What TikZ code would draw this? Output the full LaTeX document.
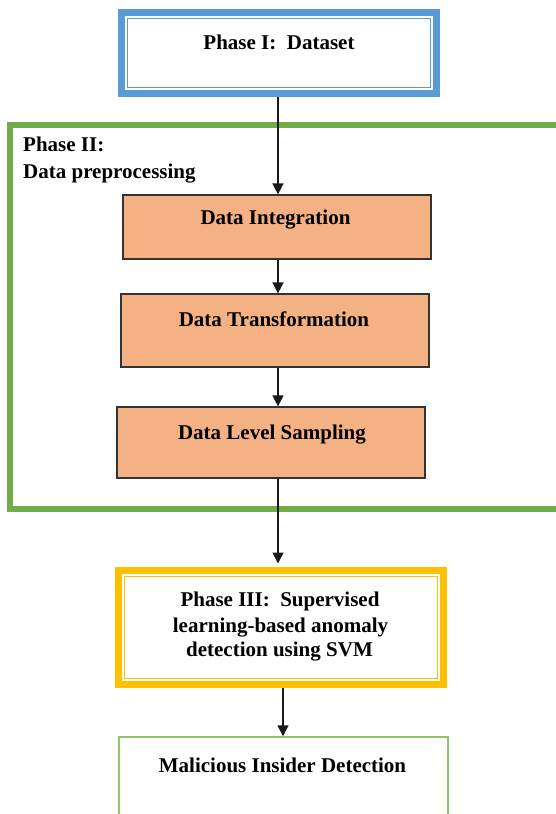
\documentclass[tikz,border=0pt]{standalone}
\usepackage{fontspec}
\setmainfont{Liberation Serif}
\usetikzlibrary{arrows.meta}
\definecolor{pblue}{HTML}{5B9BD5}
\definecolor{pgreen}{HTML}{70AD47}
\definecolor{porange}{HTML}{F4B183}
\definecolor{pyellow}{HTML}{FFC000}
\definecolor{plight}{HTML}{8DC66B}
\definecolor{pdark}{HTML}{333333}
\tikzset{
  txt/.style={inner sep=0pt, font=\fontsize{21}{25}\selectfont\bfseries, align=center},
  outerbox/.style={draw=#1, line width=7pt, inner sep=0pt},
  databox/.style={draw=pdark, fill=porange, line width=1.2pt, inner sep=0pt, minimum width=308pt},
  arr/.style={line width=1.5pt, draw=black!90, -{Triangle[width=11pt,length=11pt]}}
}
\begin{document}
\begin{tikzpicture}[x=1pt,y=-1pt]
\useasboundingbox (0,0) rectangle (555,814);
% Phase I
\node[outerbox=pblue, minimum width=315pt, minimum height=81pt] (p1) at (279,53) {};
\draw[pblue, line width=1.3pt] (127.75,18.75) rectangle (430.25,87.25);
\node[txt, anchor=base] (p1t) at (279,49.3) {Phase I:\ \ Dataset};
% Phase II
\node[draw=pgreen, line width=6pt, inner sep=0pt, minimum width=549.5pt, minimum height=383.5pt] (p2) at (284.25,316.75) {};
\node[txt, anchor=base west] (p2a) at (23,151) {Phase II:};
\node[txt, anchor=base west] (p2b) at (23,178) {Data preprocessing};
% data boxes
\node[databox, minimum height=64pt] (di) at (277,227) {};
\node[txt, anchor=base] (dit) at (275.5,224) {Data Integration};
\node[databox, minimum height=73pt] (dt) at (275,330.5) {};
\node[txt, anchor=base] (dtt) at (274,326.7) {Data Transformation};
\node[databox, minimum height=71pt] (dl) at (271,442.5) {};
\node[txt, anchor=base] (dlt) at (272,439.3) {Data Level Sampling};
% Phase III
\node[outerbox=pyellow, minimum width=325pt, minimum height=114pt] (p3) at (281,627.5) {};
\draw[pyellow, line width=1.3pt] (124.75,576.75) rectangle (437.25,678.25);
\node[txt, anchor=base] (p3a) at (280,606.7) {Phase III:\ \ Supervised};
\node[txt, anchor=base] (p3b) at (280.5,632) {learning-based anomaly};
\node[txt, anchor=base] (p3c) at (279.5,656.7) {detection using SVM};
% final
\node[draw=plight, line width=1.5pt, inner sep=0pt, minimum width=329pt, minimum height=93pt] (fin) at (283.5,783.5) {};
\node[txt, anchor=base] (fint) at (282.5,772.7) {Malicious Insider Detection};
% arrows
\coordinate (xa) at (278,0);
\coordinate (xc) at (283,0);
\draw[arr] (xa |- p1.south) -- (xa |- di.north);
\draw[arr] (xa |- di.south) -- (xa |- dt.north);
\draw[arr] (xa |- dt.south) -- (xa |- dl.north);
\draw[arr, shorten >=3.5pt] (xa |- dl.south) -- (xa |- p3.north);
\draw[arr] (xc |- p3.south) -- (xc |- fin.north);
\end{tikzpicture}
\end{document}
